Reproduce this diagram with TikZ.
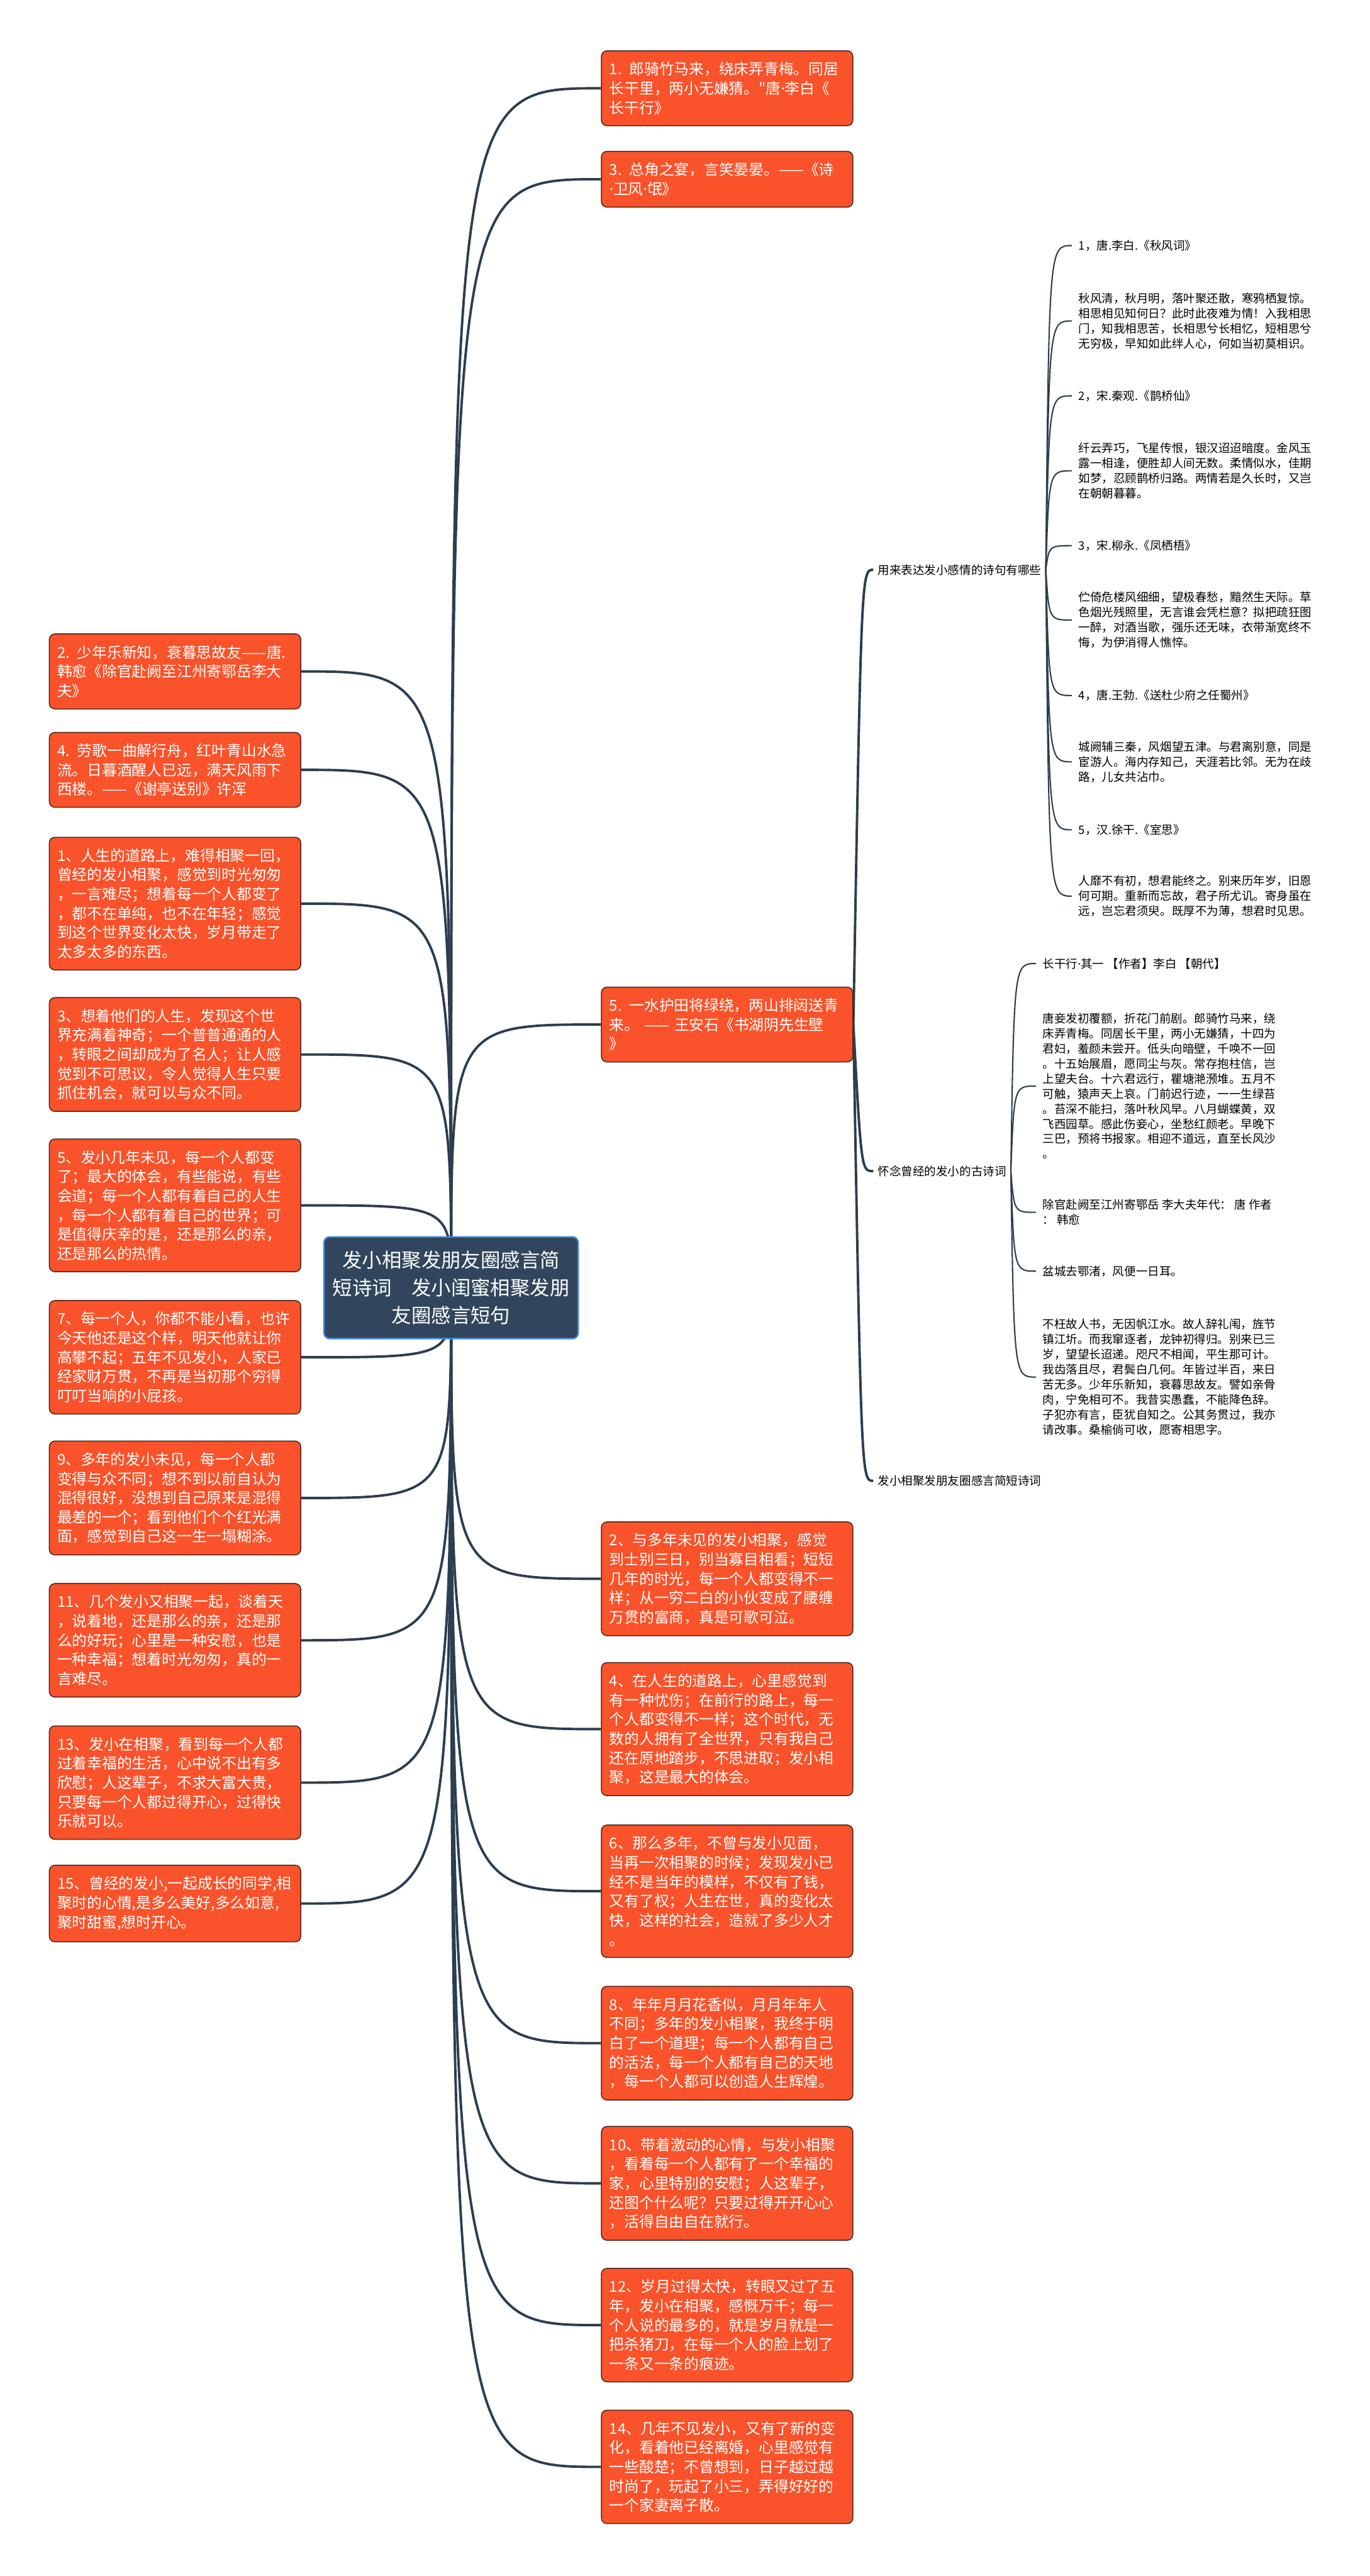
\documentclass[tikz,border=0pt]{standalone}
\usepackage{fontspec}
\setmainfont{Noto Sans CJK SC}[Ligatures=TeXOff]
\newfontfamily\dotfont{Noto Sans}
\newcommand{\mdot}{{\dotfont ·}}
\usetikzlibrary{backgrounds}
\definecolor{cardfill}{RGB}{250,82,42}
\definecolor{cardedge}{RGB}{70,40,30}
\definecolor{rootfill}{RGB}{49,70,92}
\definecolor{rootedge}{RGB}{66,133,222}
\definecolor{branch}{RGB}{44,62,80}

\begin{document}
\begin{tikzpicture}[
      root/.style={fill=rootfill,draw=rootedge,line width=0.8pt,rounded corners=3pt,text=white,minimum width=4.75cm,minimum height=1.9cm,align=center,font=\fontsize{10.5pt}{14.8pt}\selectfont},
      card/.style={fill=cardfill,draw=cardedge,line width=0.5pt,rounded corners=3pt,text=white,text width=4.4cm,inner xsep=0.15cm,inner ysep=0.21cm,align=left,font=\fontsize{7.95pt}{10.25pt}\selectfont},
      topic/.style={inner sep=0.08cm,font=\fontsize{6.2pt}{8pt}\selectfont},
      verse/.style={inner xsep=0.12cm,inner ysep=0.05cm,align=left,font=\fontsize{6.2pt}{8pt}\selectfont},
      link/.style={draw=branch,line width=1.3pt},
      twig/.style={draw=branch,line width=0.7pt}
    ]
      \useasboundingbox (0,0) rectangle (25.6,-48.15);
      \node[root] (root) at (8.43,-24.07) {发小相聚发朋友圈感言简\\短诗词\hspace{1em}发小闺蜜相聚发朋\\友圈感言短句};

      % right column
      \node[card,anchor=west] (r1) at (11.23,-1.65) {1. 郎骑竹马来，绕床弄青梅。同居\\长干里，两小无嫌猜。"唐\mdot 李白《\\长干行》};
      \node[card,anchor=west] (r3) at (11.23,-3.35) {3. 总角之宴，言笑晏晏。——《诗\\\mdot 卫风\mdot 氓》};
      \node[card,anchor=west] (r5) at (11.23,-19.15) {5. 一水护田将绿绕，两山排闼送青\\来。 —— 王安石《书湖阴先生壁\\》};
      \node[card,anchor=west] (r2) at (11.23,-29.51) {2、与多年未见的发小相聚，感觉\\到士别三日，别当寡目相看；短短\\几年的时光，每一个人都变得不一\\样；从一穷二白的小伙变成了腰缠\\万贯的富商，真是可歌可泣。};
      \node[card,anchor=west] (r4) at (11.23,-32.32) {4、在人生的道路上，心里感觉到\\有一种忧伤；在前行的路上，每一\\个人都变得不一样；这个时代，无\\数的人拥有了全世界，只有我自己\\还在原地踏步，不思进取；发小相\\聚，这是最大的体会。};
      \node[card,anchor=west] (r6) at (11.23,-35.35) {6、那么多年，不曾与发小见面，\\当再一次相聚的时候；发现发小已\\经不是当年的模样，不仅有了钱，\\又有了权；人生在世，真的变化太\\快，这样的社会，造就了多少人才\\。};
      \node[card,anchor=west] (r8) at (11.23,-38.19) {8、年年月月花香似，月月年年人\\不同；多年的发小相聚，我终于明\\白了一个道理；每一个人都有自己\\的活法，每一个人都有自己的天地\\，每一个人都可以创造人生辉煌。};
      \node[card,anchor=west] (r10) at (11.23,-40.81) {10、带着激动的心情，与发小相聚\\，看着每一个人都有了一个幸福的\\家，心里特别的安慰；人这辈子，\\还图个什么呢？只要过得开开心心\\，活得自由自在就行。};
      \node[card,anchor=west] (r12) at (11.23,-43.46) {12、岁月过得太快，转眼又过了五\\年，发小在相聚，感慨万千；每一\\个人说的最多的，就是岁月就是一\\把杀猪刀，在每一个人的脸上划了\\一条又一条的痕迹。};
      \node[card,anchor=west] (r14) at (11.23,-46.11) {14、几年不见发小，又有了新的变\\化，看着他已经离婚，心里感觉有\\一些酸楚；不曾想到，日子越过越\\时尚了，玩起了小三，弄得好好的\\一个家妻离子散。};

      % left column
      \node[card,anchor=east] (l2) at (5.63,-12.55) {2. 少年乐新知，衰暮思故友——唐.\\韩愈《除官赴阙至江州寄鄂岳李大\\夫》};
      \node[card,anchor=east] (l4) at (5.63,-14.39) {4. 劳歌一曲解行舟，红叶青山水急\\流。日暮酒醒人已远，满天风雨下\\西楼。——《谢亭送别》许浑};
      \node[card,anchor=east] (l1) at (5.63,-16.89) {1、人生的道路上，难得相聚一回，\\曾经的发小相聚，感觉到时光匆匆\\，一言难尽；想着每一个人都变了\\，都不在单纯，也不在年轻；感觉\\到这个世界变化太快，岁月带走了\\太多太多的东西。};
      \node[card,anchor=east] (l3) at (5.63,-19.71) {3、想着他们的人生，发现这个世\\界充满着神奇；一个普普通通的人\\，转眼之间却成为了名人；让人感\\觉到不可思议，令人觉得人生只要\\抓住机会，就可以与众不同。};
      \node[card,anchor=east] (l5) at (5.63,-22.53) {5、发小几年未见，每一个人都变\\了；最大的体会，有些能说，有些\\会道；每一个人都有着自己的人生\\，每一个人都有着自己的世界；可\\是值得庆幸的是，还是那么的亲，\\还是那么的热情。};
      \node[card,anchor=east] (l7) at (5.63,-25.37) {7、每一个人，你都不能小看，也许\\今天他还是这个样，明天他就让你\\高攀不起；五年不见发小，人家已\\经家财万贯，不再是当初那个穷得\\叮叮当响的小屁孩。};
      \node[card,anchor=east] (l9) at (5.63,-28.00) {9、多年的发小未见，每一个人都\\变得与众不同；想不到以前自认为\\混得很好，没想到自己原来是混得\\最差的一个；看到他们个个红光满\\面，感觉到自己这一生一塌糊涂。};
      \node[card,anchor=east] (l11) at (5.63,-30.66) {11、几个发小又相聚一起，谈着天\\，说着地，还是那么的亲，还是那\\么的好玩；心里是一种安慰，也是\\一种幸福；想着时光匆匆，真的一\\言难尽。};
      \node[card,anchor=east] (l13) at (5.63,-33.32) {13、发小在相聚，看到每一个人都\\过着幸福的生活，心中说不出有多\\欣慰；人这辈子，不求大富大贵，\\只要每一个人都过得开心，过得快\\乐就可以。};
      \node[card,anchor=east] (l15) at (5.63,-35.58) {15、曾经的发小,一起成长的同学,相\\聚时的心情,是多么美好,多么如意,\\聚时甜蜜,想时开心。};

      % sub topics of r5
      \node[topic,anchor=west] (lab1) at (16.32,-10.65) {用来表达发小感情的诗句有哪些};
      \node[topic,anchor=west] (lab2) at (16.32,-21.89) {怀念曾经的发小的古诗词};
      \node[topic,anchor=west] (lab3) at (16.32,-27.68) {发小相聚发朋友圈感言简短诗词};

      \node[verse,anchor=west] (v1) at (20.03,-4.59) {1，唐.李白.《秋风词》};
      \node[verse,anchor=west] (v2) at (20.03,-6.00) {秋风清，秋月明，落叶聚还散，寒鸦栖复惊。\\相思相见知何日？此时此夜难为情！入我相思\\门，知我相思苦，长相思兮长相忆，短相思兮\\无穷极，早知如此绊人心，何如当初莫相识。};
      \node[verse,anchor=west] (v3) at (20.03,-7.40) {2，宋.秦观.《鹊桥仙》};
      \node[verse,anchor=west] (v4) at (20.03,-8.80) {纤云弄巧，飞星传恨，银汉迢迢暗度。金风玉\\露一相逢，便胜却人间无数。柔情似水，佳期\\如梦，忍顾鹊桥归路。两情若是久长时，又岂\\在朝朝暮暮。};
      \node[verse,anchor=west] (v5) at (20.03,-10.20) {3，宋.柳永.《凤栖梧》};
      \node[verse,anchor=west] (v6) at (20.03,-11.59) {伫倚危楼风细细，望极春愁，黯然生天际。草\\色烟光残照里，无言谁会凭栏意？拟把疏狂图\\一醉，对酒当歌，强乐还无味，衣带渐宽终不\\悔，为伊消得人憔悴。};
      \node[verse,anchor=west] (v7) at (20.03,-13.00) {4，唐.王勃.《送杜少府之任蜀州》};
      \node[verse,anchor=west] (v8) at (20.03,-14.24) {城阙辅三秦，风烟望五津。与君离别意，同是\\宦游人。海内存知己，天涯若比邻。无为在歧\\路，儿女共沾巾。};
      \node[verse,anchor=west] (v9) at (20.03,-15.51) {5，汉.徐干.《室思》};
      \node[verse,anchor=west] (v10) at (20.03,-16.75) {人靡不有初，想君能终之。别来历年岁，旧恩\\何可期。重新而忘故，君子所尤讥。寄身虽在\\远，岂忘君须臾。既厚不为薄，想君时见思。};

      \node[verse,anchor=west] (w1) at (19.36,-18.01) {长干行\mdot 其一 【作者】李白 【朝代】};
      \node[verse,anchor=west] (w2) at (19.36,-20.30) {唐妾发初覆额，折花门前剧。郎骑竹马来，绕\\床弄青梅。同居长干里，两小无嫌猜，十四为\\君妇，羞颜未尝开。低头向暗壁，千唤不一回\\。十五始展眉，愿同尘与灰。常存抱柱信，岂\\上望夫台。十六君远行，瞿塘滟滪堆。五月不\\可触，猿声天上哀。门前迟行迹，一一生绿苔\\。苔深不能扫，落叶秋风早。八月蝴蝶黄，双\\飞西园草。感此伤妾心，坐愁红颜老。早晚下\\三巴，预将书报家。相迎不道远，直至长风沙\\。};
      \node[verse,anchor=west] (w3) at (19.36,-22.66) {除官赴阙至江州寄鄂岳 李大夫年代： 唐 作者\\： 韩愈};
      \node[verse,anchor=west] (w4) at (19.36,-23.76) {盆城去鄂渚，风便一日耳。};
      \node[verse,anchor=west] (w5) at (19.36,-25.74) {不枉故人书，无因帆江水。故人辞礼闱，旌节\\镇江圻。而我窜逐者，龙钟初得归。别来已三\\岁，望望长迢递。咫尺不相闻，平生那可计。\\我齿落且尽，君鬓白几何。年皆过半百，来日\\苦无多。少年乐新知，衰暮思故友。譬如亲骨\\肉，宁免相可不。我昔实愚蠢，不能降色辞。\\子犯亦有言，臣犹自知之。公其务贯过，我亦\\请改事。桑榆倘可收，愿寄相思字。};

      \coordinate (hub5) at ([xshift=0.15cm]r5.east);
      \coordinate (hub1) at ([xshift=0.06cm]lab1.east);
      \coordinate (hub2) at ([xshift=0.06cm]lab2.east);

      \begin{scope}[on background layer]
        \fill[white] (0,0) rectangle (25.6,-48.15);
        \foreach \n in {l2,l4,l1,l3,l5,l7,l9,l11,l13,l15}
          \draw[link] (root.center) .. controls (root.center |- \n.east) .. (\n.east);
        \foreach \n in {r1,r3,r5,r2,r4,r6,r8,r10,r12,r14}
          \draw[link] (root.center) .. controls (root.center |- \n.west) .. (\n.west);
        \foreach \n in {lab1,lab2,lab3}
          \draw[link] (r5.east) .. controls (hub5 |- \n.west) .. (\n.west);
        \foreach \n in {v1,v2,v3,v4,v5,v6,v7,v8,v9,v10}
          \draw[twig] (lab1.east) .. controls (hub1 |- \n.west) .. (\n.west);
        \foreach \n in {w1,w2,w3,w4,w5}
          \draw[twig] (lab2.east) .. controls (hub2 |- \n.west) .. (\n.west);
      \end{scope}
    \end{tikzpicture}
\end{document}
